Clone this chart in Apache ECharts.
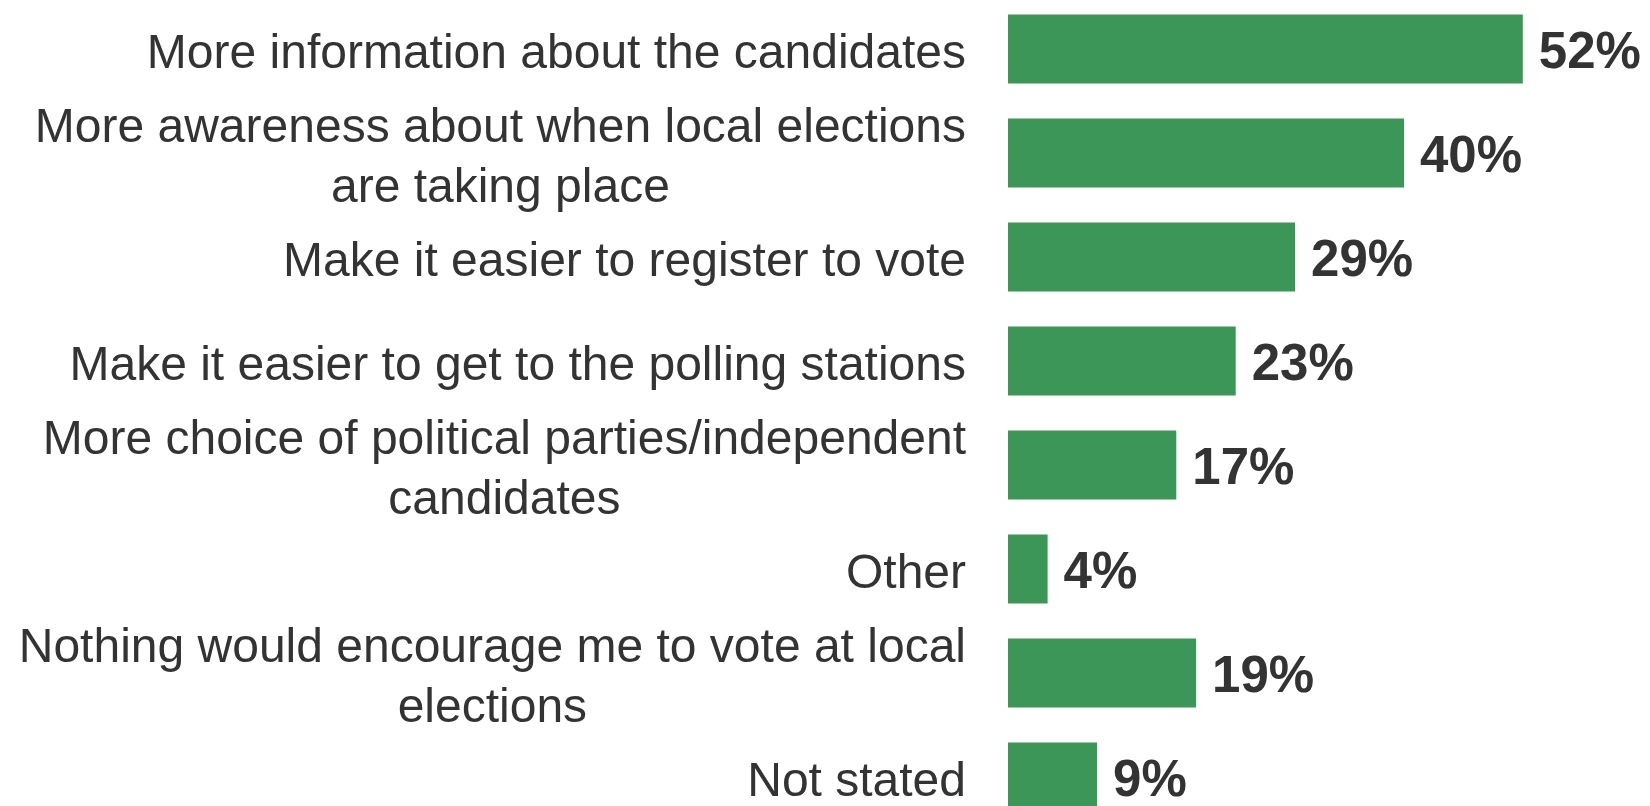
<!DOCTYPE html>
<html>
<head>
<meta charset="utf-8">
<script src="https://cdn.jsdelivr.net/npm/echarts@6/dist/echarts.min.js"></script>
<style>html,body{margin:0;padding:0;background:#fff;}#c{width:1650px;height:806px;}</style>
</head>
<body>
<div id="c"></div>
<script>
var categories = [
  ["More information about the candidates"],
  ["More awareness about when local elections", "are taking place"],
  ["Make it easier to register to vote"],
  ["Make it easier to get to the polling stations"],
  ["More choice of political parties/independent", "candidates"],
  ["Other"],
  ["Nothing would encourage me to vote at local", "elections"],
  ["Not stated"]
];
var values = [52, 40, 29, 23, 17, 4, 19, 9];

var FONT = "'Liberation Sans', Arial, sans-serif";
var chart = echarts.init(document.getElementById('c'));
chart.setOption({
  animation: false,
  grid: { left: 1008, width: 594, top: -3, height: 832, containLabel: false, outerBoundsMode: 'none' },
  xAxis: { type: 'value', min: 0, max: 60, show: false },
  yAxis: {
    type: 'category',
    inverse: true,
    data: categories.map(function (c) { return c.join('\n'); }),
    axisLine: { show: false },
    axisTick: { show: false },
    axisLabel: {
      margin: 42,
      align: 'right',
      padding: [12, 0, 0, 0],
      fontFamily: FONT,
      fontSize: 48,
      lineHeight: 60,
      color: '#333333',
      formatter: function (v) {
        return v.split('\n').map(function (l) { return '{c|' + l + '}'; }).join('\n');
      },
      rich: {
        c: { align: 'center', fontFamily: FONT, fontSize: 48, lineHeight: 60, color: '#333333' }
      }
    }
  },
  series: [{
    type: 'bar',
    data: values,
    barWidth: 69,
    itemStyle: { color: '#3c9657' },
    label: {
      show: true,
      position: 'right',
      distance: 16,
      offset: [0, 5],
      formatter: '{c}%',
      fontFamily: FONT,
      fontWeight: 'bold',
      fontSize: 51,
      color: '#333333'
    }
  }]
});
</script>
</body>
</html>
